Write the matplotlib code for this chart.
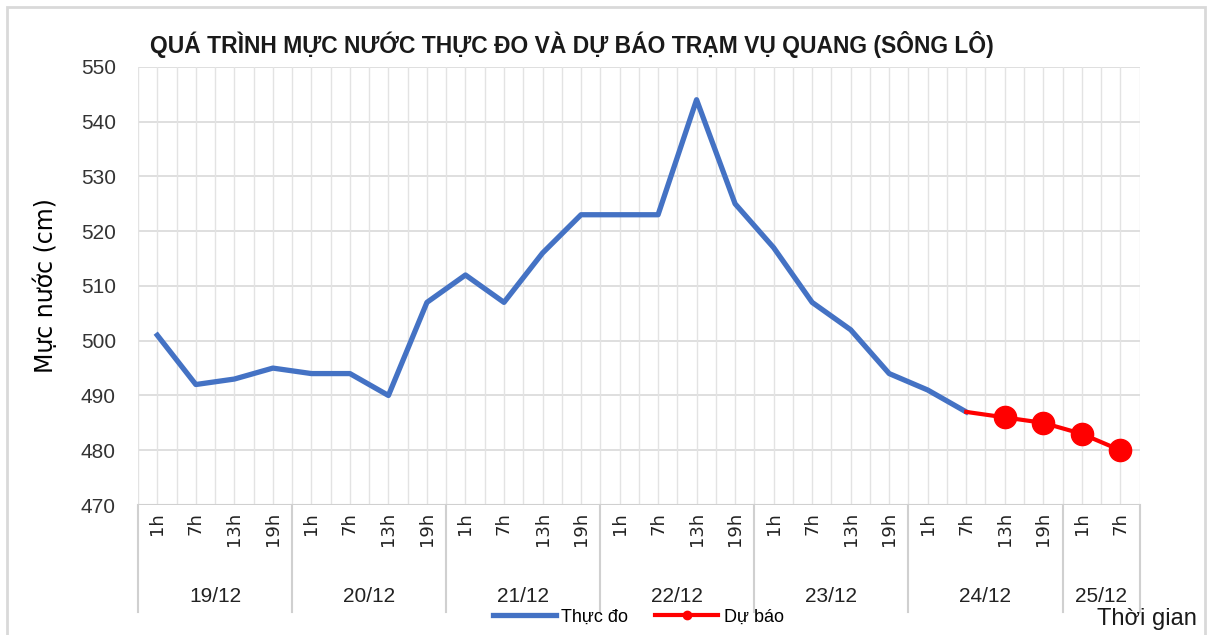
import numpy as np
import matplotlib.pyplot as plt
from matplotlib.patches import Rectangle
from matplotlib.transforms import blended_transform_factory
from matplotlib.lines import Line2D

# data
hours = ["1h", "7h", "13h", "19h"] * 6 + ["1h", "7h"]
days = ["19/12", "20/12", "21/12", "22/12", "23/12", "24/12", "25/12"]
day_sizes = [4, 4, 4, 4, 4, 4, 2]

observed = [501, 492, 493, 495, 494, 494, 490, 507, 512, 507, 516, 523,
            523, 523, 544, 525, 517, 507, 502, 494, 491, 487]
forecast = [487, 486, 485, 483, 480]
forecast_start = 21

narrow = ["Liberation Sans Narrow", "Liberation Sans", "DejaVu Sans"]

fig = plt.figure(figsize=(12.11, 6.35), dpi=100)
ax = fig.add_axes([0.114, 0.2047, 0.827, 0.69])

# outer frame of the chart
fig.patches.append(Rectangle((0.006, -0.01), 0.989, 0.999, transform=fig.transFigure,
                             fill=False, edgecolor="#d9d9d9", linewidth=2))

n = len(hours)
x = np.arange(n)

ax.plot(x[:len(observed)], observed, color="#4472C4", linewidth=3.8,
        solid_joinstyle="round", zorder=3)
xf = np.arange(forecast_start, forecast_start + len(forecast))
ax.plot(xf, forecast, color="#FF0000", linewidth=3, zorder=4)
ax.plot(xf[1:], forecast[1:], linestyle="none", marker="o", markersize=16,
        color="#FF0000", zorder=5)

ax.set_xlim(-0.5, n - 0.5)
ax.set_ylim(470, 550)
ax.set_yticks(np.arange(470, 551, 10))

# gridlines: horizontal every 10, vertical every half category
for yv in np.arange(480, 551, 10):
    ax.axhline(yv, color="#d9d9d9", linewidth=1.2, zorder=1)
for xv in np.arange(-0.5, n, 0.5):
    ax.axvline(xv, color="#e3e3e3", linewidth=1.0, zorder=1)

for s in ax.spines.values():
    s.set_visible(False)
ax.axhline(470, color="#d0d0d0", linewidth=1.5, zorder=2)

ax.tick_params(axis="y", length=0, pad=16, labelsize=15)
for lab in ax.get_yticklabels():
    lab.set_family(narrow)
    lab.set_color("#333333")
ax.set_xticks([])

trans = blended_transform_factory(ax.transData, fig.transFigure)
for i, h in enumerate(hours):
    fig.text(i, 1 - 512 / 635, h, transform=trans, rotation=90,
             ha="center", va="top", fontsize=13, color="#222222")

# day groups and separators
start = 0
bounds = [-0.5]
for d, sz in zip(days, day_sizes):
    center = start + (sz - 1) / 2
    fig.text(center, 1 - 597 / 635, d, transform=trans, ha="center",
             va="center", fontsize=15, family=narrow, color="#222222")
    start += sz
    bounds.append(start - 0.5)
for b in bounds:
    ax.add_line(Line2D([b, b], [1 - 505 / 635, 1 - 612 / 635], transform=trans,
                       color="#d0d0d0", linewidth=1.5, clip_on=False))

ax.set_ylabel("Mực nước (cm)", fontsize=17)
ax.yaxis.set_label_coords(-0.08, 0.5)

fig.text(150 / 1211, 1 - 45 / 635,
         "QUÁ TRÌNH MỰC NƯỚC THỰC ĐO VÀ DỰ BÁO TRẠM VỤ QUANG (SÔNG LÔ)",
         ha="left", va="center", fontsize=16.5, fontweight="bold",
         family=narrow, color="#1a1a1a")

fig.text(1147 / 1211, 1 - 619 / 635, "Thời gian", ha="center", va="center",
         fontsize=17, family=narrow, color="#1a1a1a")

handles = [Line2D([], [], color="#4472C4", linewidth=3.8),
           Line2D([], [], color="#FF0000", linewidth=3, marker="o", markersize=6)]
fig.legend(handles, ["Thực đo", "Dự báo"], loc="center", ncol=2,
           bbox_to_anchor=(0.527, 1 - 617 / 635), frameon=False,
           prop={"family": narrow, "size": 13}, handlelength=3.5,
           handletextpad=0.3, columnspacing=1.5)

fig.savefig("out.png", dpi=100)
